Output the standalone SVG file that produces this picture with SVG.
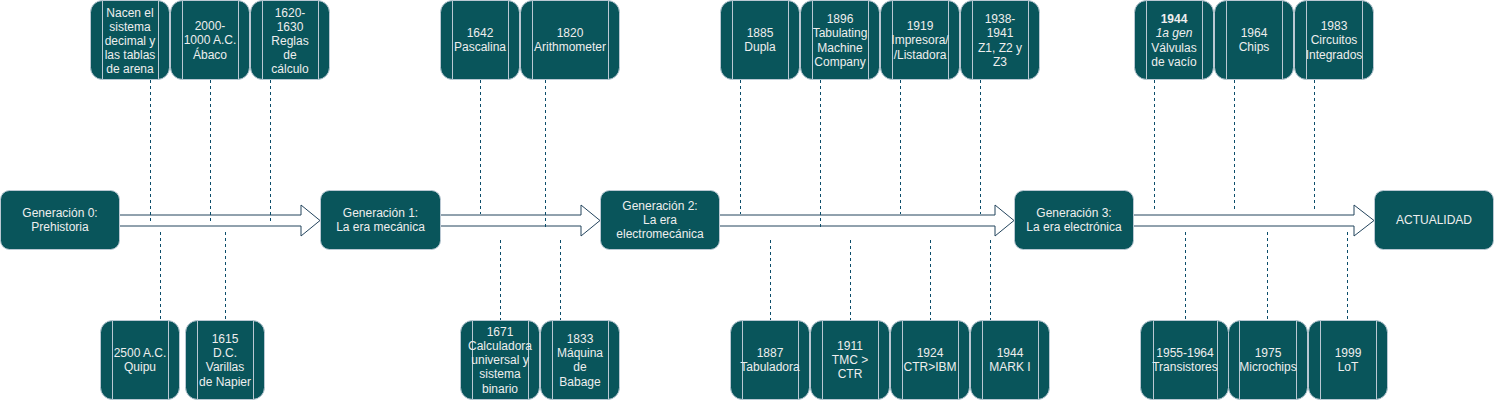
<svg xmlns="http://www.w3.org/2000/svg" width="1495" height="402" viewBox="0 0 1495 402">
<defs>
<style>
.box{fill:#09555B;stroke:#BAC8D3;stroke-width:1}
.in{stroke:#BAC8D3;stroke-width:1}
.t{font-family:"Liberation Sans",Arial,sans-serif;font-size:12px;fill:#EEEEEE;text-anchor:middle}
.dash{stroke:#0B4D6A;stroke-width:1;stroke-dasharray:3 3;fill:none}
.arrow{fill:#ffffff;stroke:#23445D;stroke-width:1;stroke-linejoin:miter}
</style>
</defs>
<rect width="1495" height="402" fill="#ffffff"/>
<g id="connectors">
<path class="arrow" d="M118,215 L301,215 L301,205 L320,220.5 L301,236 L301,226 L118,226 Z"/>
<path class="arrow" d="M439,215 L581,215 L581,205 L600,220.5 L581,236 L581,226 L439,226 Z"/>
<path class="arrow" d="M718,215 L995,215 L995,205 L1014,220.5 L995,236 L995,226 L718,226 Z"/>
<path class="arrow" d="M1132,215 L1354,215 L1354,205 L1374,220.5 L1354,236 L1354,226 L1132,226 Z"/>
<line class="dash" x1="150.5" y1="80" x2="150.5" y2="221"/>
<line class="dash" x1="210.5" y1="80" x2="210.5" y2="221"/>
<line class="dash" x1="270.5" y1="80" x2="270.5" y2="221"/>
<line class="dash" x1="160.5" y1="232" x2="160.5" y2="320"/>
<line class="dash" x1="225.5" y1="232" x2="225.5" y2="320"/>
<line class="dash" x1="480.5" y1="80" x2="480.5" y2="214"/>
<line class="dash" x1="545.5" y1="80" x2="545.5" y2="227"/>
<line class="dash" x1="500.5" y1="240" x2="500.5" y2="320"/>
<line class="dash" x1="560.5" y1="240" x2="560.5" y2="320"/>
<line class="dash" x1="740.5" y1="80" x2="740.5" y2="214"/>
<line class="dash" x1="820.5" y1="80" x2="820.5" y2="227"/>
<line class="dash" x1="900.5" y1="80" x2="900.5" y2="214"/>
<line class="dash" x1="980.5" y1="80" x2="980.5" y2="214"/>
<line class="dash" x1="770.5" y1="240" x2="770.5" y2="320"/>
<line class="dash" x1="850.5" y1="240" x2="850.5" y2="320"/>
<line class="dash" x1="930.5" y1="240" x2="930.5" y2="320"/>
<line class="dash" x1="990.5" y1="240" x2="990.5" y2="320"/>
<line class="dash" x1="1154.5" y1="80" x2="1154.5" y2="209"/>
<line class="dash" x1="1234.5" y1="80" x2="1234.5" y2="209"/>
<line class="dash" x1="1314.5" y1="80" x2="1314.5" y2="209"/>
<line class="dash" x1="1185.5" y1="232" x2="1185.5" y2="320"/>
<line class="dash" x1="1267.5" y1="232" x2="1267.5" y2="320"/>
<line class="dash" x1="1347.5" y1="232" x2="1347.5" y2="320"/>
</g>
<g id="gen0"><rect class="box" x="0.5" y="190.5" width="119" height="59" rx="9"/><text class="t"><tspan x="60" y="217.3">Generación 0:</tspan><tspan x="60" y="231.4">Prehistoria</tspan></text></g>
<g id="gen1"><rect class="box" x="320.5" y="190.5" width="120" height="59" rx="9"/><text class="t"><tspan x="380.5" y="217.3">Generación 1:</tspan><tspan x="380.5" y="231.4">La era mecánica</tspan></text></g>
<g id="gen2"><rect class="box" x="600.5" y="190.5" width="119" height="59" rx="9"/><text class="t"><tspan x="660" y="210.2">Generación 2:</tspan><tspan x="660" y="224.3">La era</tspan><tspan x="660" y="238.4">electromecánica</tspan></text></g>
<g id="gen3"><rect class="box" x="1014.5" y="190.5" width="119" height="59" rx="9"/><text class="t"><tspan x="1074" y="217.3">Generación 3:</tspan><tspan x="1074" y="231.4">La era electrónica</tspan></text></g>
<g id="actualidad"><rect class="box" x="1374.5" y="190.5" width="119" height="59" rx="9"/><text class="t" x="1434" y="224.3">ACTUALIDAD</text></g>

<g id="t-nacen"><rect class="box" x="90.5" y="0.5" width="79" height="79" rx="12"/><path class="in" d="M102.5,0.5V79.5M158.5,0.5V79.5"/><text class="t"><tspan x="130" y="16.8">Nacen el</tspan><tspan x="130" y="30.9">sistema</tspan><tspan x="130" y="45">decimal y</tspan><tspan x="130" y="59.1">las tablas</tspan><tspan x="130" y="73.2">de arena</tspan></text></g>
<g id="t-abaco"><rect class="box" x="170.5" y="0.5" width="79" height="79" rx="12"/><path class="in" d="M182.5,0.5V79.5M238.5,0.5V79.5"/><text class="t"><tspan x="210" y="30">2000-</tspan><tspan x="210" y="44.3">1000 A.C.</tspan><tspan x="210" y="58.6">Ábaco</tspan></text></g>
<g id="t-reglas"><rect class="box" x="250.5" y="0.5" width="79" height="79" rx="12"/><path class="in" d="M262.5,0.5V79.5M318.5,0.5V79.5"/><text class="t"><tspan x="290" y="16.8">1620-</tspan><tspan x="290" y="30.9">1630</tspan><tspan x="290" y="45">Reglas</tspan><tspan x="290" y="59.1">de</tspan><tspan x="290" y="73.2">cálculo</tspan></text></g>
<g id="t-pascalina"><rect class="box" x="440.5" y="0.5" width="79" height="79" rx="12"/><path class="in" d="M452.5,0.5V79.5M508.5,0.5V79.5"/><text class="t"><tspan x="480" y="37.3">1642</tspan><tspan x="480" y="51.4">Pascalina</tspan></text></g>
<g id="t-arith"><rect class="box" x="520.5" y="0.5" width="99" height="79" rx="12"/><path class="in" d="M532.5,0.5V79.5M608.5,0.5V79.5"/><text class="t"><tspan x="570" y="37.3">1820</tspan><tspan x="570" y="51.4">Arithmometer</tspan></text></g>
<g id="t-dupla"><rect class="box" x="720.5" y="0.5" width="79" height="79" rx="12"/><path class="in" d="M732.5,0.5V79.5M788.5,0.5V79.5"/><text class="t"><tspan x="760" y="37.3">1885</tspan><tspan x="760" y="51.4">Dupla</tspan></text></g>
<g id="t-tmc"><rect class="box" x="800.5" y="0.5" width="79" height="79" rx="12"/><path class="in" d="M812.5,0.5V79.5M868.5,0.5V79.5"/><text class="t"><tspan x="840" y="22.6">1896</tspan><tspan x="840" y="37">Tabulating</tspan><tspan x="840" y="51.5">Machine</tspan><tspan x="840" y="66">Company</tspan></text></g>
<g id="t-impresora"><rect class="box" x="880.5" y="0.5" width="79" height="79" rx="12"/><path class="in" d="M892.5,0.5V79.5M948.5,0.5V79.5"/><text class="t"><tspan x="920" y="30">1919</tspan><tspan x="920" y="44.3">Impresora/</tspan><tspan x="920" y="58.6">/Listadora</tspan></text></g>
<g id="t-z"><rect class="box" x="960.5" y="0.5" width="79" height="79" rx="12"/><path class="in" d="M972.5,0.5V79.5M1028.5,0.5V79.5"/><text class="t"><tspan x="1000" y="22.6">1938-</tspan><tspan x="1000" y="37">1941</tspan><tspan x="1000" y="51.5">Z1, Z2 y</tspan><tspan x="1000" y="66">Z3</tspan></text></g>
<g id="t-valvulas"><rect class="box" x="1134.5" y="0.5" width="79" height="79" rx="12"/><path class="in" d="M1146.5,0.5V79.5M1202.5,0.5V79.5"/><text class="t"><tspan x="1174" y="22.6" font-weight="bold">1944</tspan><tspan x="1174" y="37" font-style="italic">1a gen</tspan><tspan x="1174" y="51.5">Válvulas</tspan><tspan x="1174" y="66">de vacío</tspan></text></g>
<g id="t-chips"><rect class="box" x="1214.5" y="0.5" width="79" height="79" rx="12"/><path class="in" d="M1226.5,0.5V79.5M1282.5,0.5V79.5"/><text class="t"><tspan x="1254" y="37.3">1964</tspan><tspan x="1254" y="51.4">Chips</tspan></text></g>
<g id="t-circuitos"><rect class="box" x="1294.5" y="0.5" width="79" height="79" rx="12"/><path class="in" d="M1306.5,0.5V79.5M1362.5,0.5V79.5"/><text class="t"><tspan x="1334" y="30">1983</tspan><tspan x="1334" y="44.3">Circuitos</tspan><tspan x="1334" y="58.6">Integrados</tspan></text></g>

<g id="b-quipu"><rect class="box" x="100.5" y="320.5" width="79" height="79" rx="12"/><path class="in" d="M112.5,320.5V399.5M168.5,320.5V399.5"/><text class="t"><tspan x="140" y="357.3">2500 A.C.</tspan><tspan x="140" y="371.4">Quipu</tspan></text></g>
<g id="b-napier"><rect class="box" x="185.5" y="320.5" width="79" height="79" rx="12"/><path class="in" d="M197.5,320.5V399.5M253.5,320.5V399.5"/><text class="t"><tspan x="225" y="343.2">1615</tspan><tspan x="225" y="357.3">D.C.</tspan><tspan x="225" y="371.4">Varillas</tspan><tspan x="225" y="385.5">de Napier</tspan></text></g>
<g id="b-calc"><rect class="box" x="460.5" y="320.5" width="79" height="79" rx="12"/><path class="in" d="M472.5,320.5V399.5M528.5,320.5V399.5"/><text class="t"><tspan x="500" y="336.1">1671</tspan><tspan x="500" y="350.2">Calculadora</tspan><tspan x="500" y="364.3">universal y</tspan><tspan x="500" y="378.4">sistema</tspan><tspan x="500" y="392.5">binario</tspan></text></g>
<g id="b-babage"><rect class="box" x="540.5" y="320.5" width="79" height="79" rx="12"/><path class="in" d="M552.5,320.5V399.5M608.5,320.5V399.5"/><text class="t"><tspan x="580" y="343.2">1833</tspan><tspan x="580" y="357.3">Máquina</tspan><tspan x="580" y="371.4">de</tspan><tspan x="580" y="385.5">Babage</tspan></text></g>
<g id="b-tabuladora"><rect class="box" x="730.5" y="320.5" width="79" height="79" rx="12"/><path class="in" d="M742.5,320.5V399.5M798.5,320.5V399.5"/><text class="t"><tspan x="770" y="357.3">1887</tspan><tspan x="770" y="371.4">Tabuladora</tspan></text></g>
<g id="b-ctr"><rect class="box" x="810.5" y="320.5" width="79" height="79" rx="12"/><path class="in" d="M822.5,320.5V399.5M878.5,320.5V399.5"/><text class="t"><tspan x="850" y="350.2">1911</tspan><tspan x="850" y="364.3">TMC &gt;</tspan><tspan x="850" y="378.4">CTR</tspan></text></g>
<g id="b-ibm"><rect class="box" x="890.5" y="320.5" width="79" height="79" rx="12"/><path class="in" d="M902.5,320.5V399.5M958.5,320.5V399.5"/><text class="t"><tspan x="930" y="357.3">1924</tspan><tspan x="930" y="371.4">CTR&gt;IBM</tspan></text></g>
<g id="b-mark"><rect class="box" x="970.5" y="320.5" width="79" height="79" rx="12"/><path class="in" d="M982.5,320.5V399.5M1038.5,320.5V399.5"/><text class="t"><tspan x="1010" y="357.3">1944</tspan><tspan x="1010" y="371.4">MARK I</tspan></text></g>
<g id="b-transistores"><rect class="box" x="1140.5" y="320.5" width="88" height="79" rx="12"/><path class="in" d="M1153.5,320.5V399.5M1217.5,320.5V399.5"/><text class="t"><tspan x="1185" y="357.3">1955-1964</tspan><tspan x="1185" y="371.4">Transistores</tspan></text></g>
<g id="b-microchips"><rect class="box" x="1228.5" y="320.5" width="79" height="79" rx="12"/><path class="in" d="M1239.5,320.5V399.5M1296.5,320.5V399.5"/><text class="t"><tspan x="1268" y="357.3">1975</tspan><tspan x="1268" y="371.4">Microchips</tspan></text></g>
<g id="b-lot"><rect class="box" x="1308.5" y="320.5" width="79" height="79" rx="12"/><path class="in" d="M1320.5,320.5V399.5M1376.5,320.5V399.5"/><text class="t"><tspan x="1348" y="357.3">1999</tspan><tspan x="1348" y="371.4">LoT</tspan></text></g>
</svg>
